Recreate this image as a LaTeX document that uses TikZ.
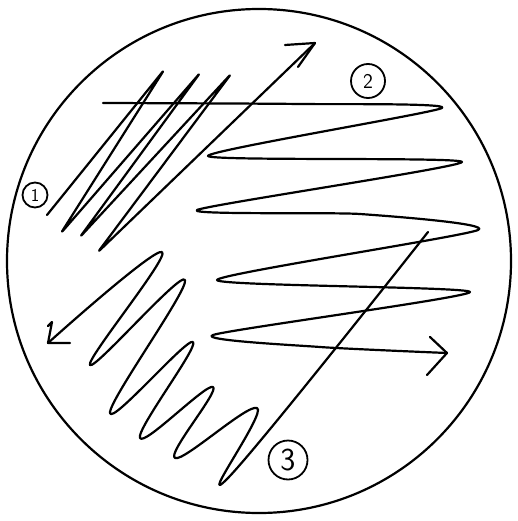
\documentclass[tikz,border=0pt]{standalone}
\usepackage{tikz}

\begin{document}
\begin{tikzpicture}[x=1pt,y=-1pt,line width=2.2pt,line cap=round,line join=round,
  every node/.style={font=\sffamily},
  tag/.style={draw,circle,line width=1.8pt,inner sep=0pt}]
\useasboundingbox (0,0) rectangle (517,521);
% plate
\draw (259,261) circle (252pt);
% streak 1
\draw[rounded corners=3pt] (47,215) -- (164,70) -- (61,233) -- (200,73) -- (80,237)
  -- (231,74) -- (98,252) -- (315,43);
\draw (285,45) -- (315,43) -- (298,67);
% streak 2
\draw plot[smooth,tension=0.35] coordinates {(103,103) (300,104) (442,108) (208,156)
  (462,162) (197,210) (360,214) (478,230) (217,280) (470,292) (213,335) (320,347) (447,353)};
\draw (430,337) -- (447,353) -- (427,375);
% streak 3
\draw plot[smooth,tension=0.7] coordinates {(428,232) (228,478) (257,408) (175,458) (213,387)
  (140,438) (193,342) (110,413) (185,280) (90,365) (162,252) (48,343)};
\draw (70,343) -- (48,343) -- (52,322) -- (48,326);
% labels
\node[tag,minimum size=25pt,font=\sffamily\fontsize{18}{18}\selectfont] (one) at (35,195) {1};
\node[tag,minimum size=34pt,font=\sffamily\fontsize{21}{21}\selectfont] (two) at (368,81) {2};
\node[tag,minimum size=39pt,font=\sffamily\fontsize{32}{32}\selectfont] (three) at (288,460) {3};
\end{tikzpicture}
\end{document}
